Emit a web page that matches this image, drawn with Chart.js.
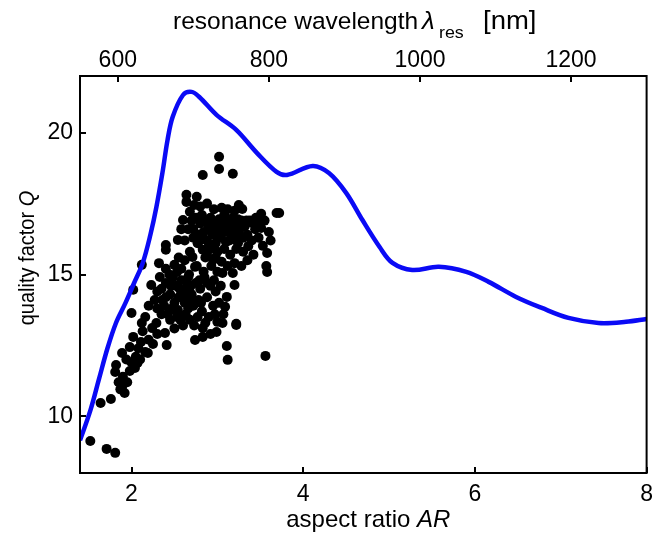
<!DOCTYPE html>
<html>
<head>
<meta charset="utf-8">
<script src="https://cdn.jsdelivr.net/npm/chart.js@4"></script>
<style>
html,body{margin:0;padding:0;background:#fff;}
canvas{display:block;}
</style>
</head>
<body>
<canvas id="c" width="661" height="538"></canvas>
<script>
// ---- data ----
const CURVE_AR = [1.40,1.52,1.62,1.72,1.82,1.93,2.03,2.13,2.22,2.29,2.36,2.42,2.48,2.60,2.70,2.79,2.99,3.22,3.46,3.69,3.81,4.11,4.30,4.50,4.69,4.89,5.04,5.27,5.58,5.90,6.16,6.48,6.78,7.09,7.44,7.76,8.00];
const CURVE_Q  = [9.15,10.20,11.30,12.40,13.30,14.00,14.70,15.40,16.40,17.38,18.58,19.75,20.56,21.33,21.44,21.26,20.63,20.10,19.29,18.62,18.51,18.83,18.58,17.88,16.92,15.97,15.41,15.16,15.27,15.09,14.74,14.21,13.82,13.47,13.29,13.33,13.43];

const DOTS_AR = [
 1.52,1.71,1.81,1.64,1.76,1.92,1.89,1.82,1.81,1.90,1.89,1.98,2.02,2.04,2.07,2.16,2.19,2.11,2.12,2.16,2.24,2.29,2.39,2.41,2.00,1.95,1.85,2.05,1.94,2.10,2.20,2.25,2.30,2.35,2.20,2.13,2.08,1.98,1.87,2.00,2.30,2.45,2.50,2.27,2.40,
 2.33,2.23,2.02,2.12,2.50,2.53,2.71,2.74,2.83,2.88,2.95,3.06,3.18,3.20,3.11,3.09,3.22,2.53,2.54,2.74,2.83,2.83,2.99,3.00,3.06,3.12,3.11,3.56,3.22,
 2.35,2.40,2.45,2.48,2.52,2.55,2.58,2.60,2.62,2.65,2.67,2.70,2.72,2.75,2.78,2.80,2.82,2.85,2.88,2.90,2.92,2.95,2.98,3.00,3.02,2.38,2.42,2.47,2.57,2.60,2.63,2.68,2.73,2.77,2.86,2.92,2.58,2.62,2.44,2.36,2.50,2.66,2.76,2.84,2.93,3.04,2.56,2.69,2.79,2.88,2.71,2.64,2.46,2.52,2.66,2.81,2.96,2.97,3.07,2.40,2.30,2.32,2.55,2.68,2.80,2.90,
 3.02,3.02,2.83,3.18,2.64,2.64,2.76,3.25,3.29,3.51,3.69,3.72,2.60,2.68,3.41,3.51,3.53,3.58,3.57,3.58,2.54,2.40,2.40,
 2.70,2.72,2.75,2.78,2.80,2.82,2.84,2.86,2.88,2.90,2.92,2.94,2.96,2.98,3.00,3.02,3.04,3.06,3.08,3.10,3.12,3.14,3.16,3.18,3.20,3.22,3.24,3.26,3.28,3.30,3.32,3.35,3.38,3.40,3.44,3.47,3.36,3.30,3.22,3.15,3.08,3.00,2.92,2.86,2.77,2.72,2.66,2.62,2.58,2.80,2.88,2.96,3.05,3.12,3.20,2.73,2.98,3.10,3.18,3.27,2.84,2.94,3.04,3.14,3.24,3.34,3.45,3.55,3.60,3.62,3.42,3.48,3.35,3.28,3.20,3.12,2.98,3.05
];
const DOTS_Q = [
 9.13,8.85,8.71,10.47,10.61,10.82,11.03,11.81,11.56,11.39,12.23,12.44,12.80,11.70,11.88,12.27,12.23,12.62,13.29,13.50,13.11,13.29,12.94,12.51,13.64,11.20,11.20,12.10,12.00,12.00,12.70,12.55,12.90,13.60,13.90,13.00,12.40,11.60,10.95,11.90,13.80,13.40,13.10,14.10,14.20,
 14.91,14.63,14.46,15.34,15.34,15.09,15.62,15.27,15.87,15.69,15.51,15.05,15.05,14.63,14.21,13.86,13.26,13.50,13.75,12.69,12.80,13.11,12.97,13.33,13.29,11.99,12.48,12.13,13.22,
 14.5,14.7,14.3,14.9,14.6,14.2,14.8,14.4,14.0,14.6,15.0,14.3,13.9,14.7,14.1,14.5,13.7,14.9,14.2,13.5,14.6,13.9,14.4,15.1,14.0,13.9,13.6,13.8,13.4,13.2,13.6,13.4,13.2,13.5,13.3,12.9,15.2,15.5,15.0,14.1,14.0,14.9,15.3,15.1,15.3,14.6,14.5,14.6,14.8,14.7,14.1,14.3,14.6,13.7,13.8,14.0,14.8,13.6,13.6,15.2,14.4,15.4,15.6,15.8,16.2,16.0,
 19.15,18.72,18.51,18.55,17.81,17.56,17.74,17.45,17.31,17.14,17.17,17.17,16.92,17.21,16.82,16.64,16.01,15.76,15.30,15.09,16.22,16.04,15.87,
 16.9,16.6,17.0,16.4,16.8,17.1,16.5,16.9,16.2,16.7,17.0,16.4,16.8,16.1,16.6,16.95,16.3,16.7,17.1,16.5,16.9,16.2,16.6,17.0,16.4,16.8,16.1,16.6,16.9,16.3,16.7,16.4,16.9,16.2,16.6,16.8,16.0,15.8,15.9,15.7,15.9,15.8,15.9,15.6,16.1,16.3,16.6,16.2,16.6,17.4,17.5,17.3,17.35,17.3,17.25,17.45,16.4,16.15,16.3,16.35,16.25,16.6,16.5,16.8,16.95,16.9,17.0,16.9,16.5,16.2,15.7,16.3,15.5,15.3,15.4,15.3,15.6,15.45
];

const X_TICKS = [2, 4, 6, 8];
const Y_TICKS = [10, 15, 20];
const TOP_TICKS = [600, 800, 1000, 1200];
const X_RANGE = [1.4, 8];
const Y_RANGE = [8, 22];
const TOP_RANGE = [550, 1300];

const X_TITLE = ['aspect ratio ', 'AR'];
const Y_TITLE = ['quality factor ', 'Q'];
const TOP_TITLE = ['resonance wavelength', '\u03BB', 'res', '[nm]'];

// ---- build ----
const FONT = '"Liberation Sans", Arial, Helvetica, sans-serif';
const curvePts = CURVE_AR.map((x, i) => ({x, y: CURVE_Q[i]}));
const dotPts = DOTS_AR.map((x, i) => ({x, y: DOTS_Q[i]}));

function stretchText(ctx, txt, x, y, sx, sy) {
  ctx.save();
  ctx.translate(x, y);
  ctx.scale(sx, sy || 1);
  ctx.fillText(txt, 0, 0);
  ctx.restore();
}

const frameTicks = {
  id: 'frameTicks',
  afterDatasetsDraw(chart) {
    const ctx = chart.ctx, a = chart.chartArea;
    const sx = chart.scales.x, sy = chart.scales.y, st = chart.scales.x2;
    ctx.save();
    ctx.strokeStyle = '#000';
    ctx.lineWidth = 2;
    ctx.strokeRect(a.left, a.top, a.right - a.left, a.bottom - a.top);
    const L = 6;
    ctx.beginPath();
    Y_TICKS.forEach(v => { const p = Math.round(sy.getPixelForValue(v)); ctx.moveTo(a.left, p); ctx.lineTo(a.left + L, p); });
    X_TICKS.forEach(v => { const p = Math.round(sx.getPixelForValue(v)); ctx.moveTo(p, a.bottom); ctx.lineTo(p, a.bottom - L); });
    TOP_TICKS.forEach(v => { const p = Math.round(st.getPixelForValue(v)); ctx.moveTo(p, a.top); ctx.lineTo(p, a.top + L); });
    ctx.stroke();
    ctx.restore();
  },
  afterDraw(chart) {
    const ctx = chart.ctx, a = chart.chartArea;
    ctx.save();
    ctx.fillStyle = '#000';
    ctx.textBaseline = 'middle';
    ctx.textAlign = 'left';
    const FS = 24;
    const nf = FS + 'px ' + FONT, itf = 'italic ' + FS + 'px ' + FONT;
    // bottom title
    ctx.font = nf; const w1 = ctx.measureText(X_TITLE[0]).width;
    ctx.font = itf; const w2 = ctx.measureText(X_TITLE[1]).width;
    let x0 = (a.left + a.right) / 2 - (w1 + w2) / 2 + 5;
    ctx.font = nf; ctx.fillText(X_TITLE[0], x0, 520);
    ctx.font = itf; ctx.fillText(X_TITLE[1], x0 + w1, 520);
    // left title
    ctx.save();
    ctx.translate(28, 258);
    ctx.rotate(-Math.PI / 2);
    ctx.scale(1, 1.08);
    const lf = '20px ' + FONT, lif = 'italic 20px ' + FONT;
    ctx.font = lf; const v1 = ctx.measureText(Y_TITLE[0]).width;
    ctx.font = lif; const v2 = ctx.measureText(Y_TITLE[1]).width;
    let y0 = -(v1 + v2) / 2;
    ctx.font = lf; ctx.fillText(Y_TITLE[0], y0, 0);
    ctx.font = lif; ctx.fillText(Y_TITLE[1], y0 + v1, 0);
    ctx.restore();
    // top title
    const ty = 22;
    ctx.font = '24.5px ' + FONT; stretchText(ctx, TOP_TITLE[0], 173, ty, 1);
    ctx.font = 'italic 24.5px ' + FONT; stretchText(ctx, TOP_TITLE[1], 422, ty, 1.05);
    ctx.font = '17px ' + FONT; stretchText(ctx, TOP_TITLE[2], 439, ty + 11, 1.05);
    ctx.font = '25px ' + FONT; stretchText(ctx, TOP_TITLE[3], 483, ty, 1.1);
    ctx.restore();
  }
};

const tickFont = {family: FONT, size: 23};
const plain = v => String(v);
new Chart(document.getElementById('c'), {
  type: 'scatter',
  data: {
    datasets: [
      {
        type: 'line', data: curvePts, borderColor: '#0a0af5', borderWidth: 4.5,
        pointRadius: 0, tension: 0.35, fill: false, xAxisID: 'x', yAxisID: 'y'
      },
      {
        data: dotPts, backgroundColor: '#000', borderColor: '#000', borderWidth: 0,
        pointRadius: 5, xAxisID: 'x', yAxisID: 'y'
      }
    ]
  },
  options: {
    responsive: false,
    animation: false,
    layout: {padding: {left: 0, right: 13, top: 0, bottom: 0}},
    plugins: {legend: {display: false}, tooltip: {enabled: false}},
    scales: {
      x: {
        type: 'linear', position: 'bottom', min: X_RANGE[0], max: X_RANGE[1],
        afterBuildTicks: s => { s.ticks = X_TICKS.map(v => ({value: v})); },
        grid: {display: false, drawTicks: false}, border: {display: false},
        ticks: {font: tickFont, color: '#000', padding: 8, maxRotation: 0, autoSkip: false, callback: plain},
        afterFit: s => { s.height = 65; }
      },
      x2: {
        type: 'linear', position: 'top', min: TOP_RANGE[0], max: TOP_RANGE[1],
        afterBuildTicks: s => { s.ticks = TOP_TICKS.map(v => ({value: v})); },
        grid: {display: false, drawTicks: false}, border: {display: false},
        ticks: {font: tickFont, color: '#000', padding: 2, maxRotation: 0, autoSkip: false, callback: plain},
        afterFit: s => { s.height = 76; }
      },
      y: {
        type: 'linear', position: 'left', min: Y_RANGE[0], max: Y_RANGE[1],
        afterBuildTicks: s => { s.ticks = Y_TICKS.map(v => ({value: v})); },
        grid: {display: false, drawTicks: false}, border: {display: false},
        ticks: {font: tickFont, color: '#000', padding: 7, autoSkip: false, callback: plain},
        afterFit: s => { s.width = 80; }
      }
    }
  },
  plugins: [frameTicks]
});
</script>
</body>
</html>
